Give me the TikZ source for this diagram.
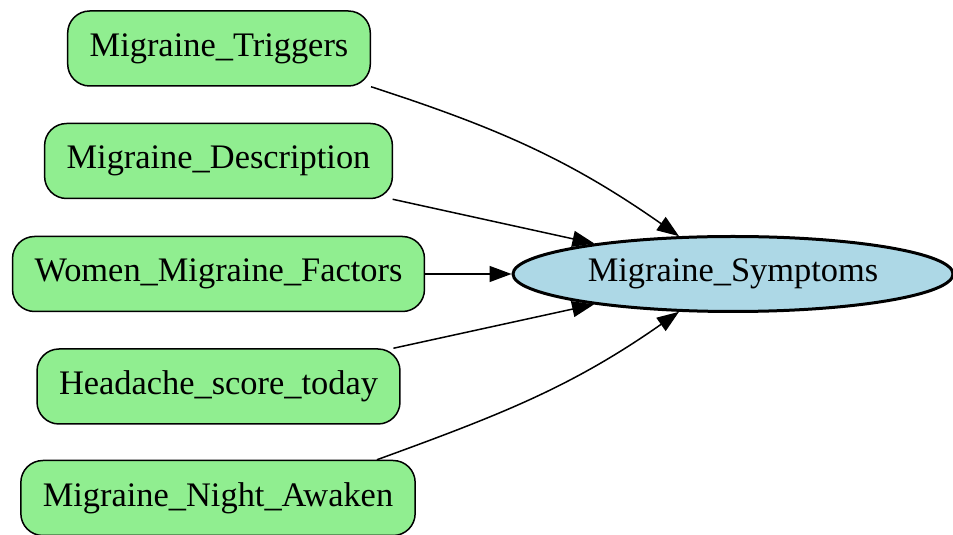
\documentclass[tikz,border=0pt]{standalone}
\usepackage{fontspec}
\setmainfont{Liberation Serif}
\usetikzlibrary{shapes.geometric,arrows.meta}
\definecolor{lightgreen}{HTML}{90EE90}
\definecolor{lightblue}{HTML}{ADD8E6}
\begin{document}
\begin{tikzpicture}[x=0.5pt,y=0.5pt,
    font=\fontsize{17.2}{20}\selectfont,
    factor/.style={draw, line width=0.75pt, fill=lightgreen, rounded corners=11pt,
      inner xsep=11pt, minimum height=37.5pt},
    target/.style={draw, ellipse, line width=1.5pt, fill=lightblue,
      minimum width=220pt, minimum height=37.5pt, inner sep=1pt},
    link/.style={line width=0.75pt, -{Triangle[length=11pt,width=8pt]}}]
  \useasboundingbox (0,0) rectangle (953,535);

  \node[factor] (trig)  at (219,486.5) {Migraine\_Triggers};
  \node[factor] (desc)  at (218.5,374) {Migraine\_Description};
  \node[factor] (women) at (218.5,261) {Women\_Migraine\_Factors};
  \node[factor] (head)  at (218.5,148.5) {Headache\_score\_today};
  \node[factor] (night) at (218,37) {Migraine\_Night\_Awaken};

  \node[target] (symp) at (733,261) {Migraine\_Symptoms};

  \coordinate (nightout) at ([xshift=-19.5pt]night.north east);

  \draw[link] (trig.south east) to[out=-18,in=145] (symp);
  \draw[link] (desc) -- (symp);
  \draw[link] (women) -- (symp);
  \draw[link] (head) -- (symp);
  \draw[link] (nightout) to[out=20,in=-145] (symp);
\end{tikzpicture}
\end{document}
